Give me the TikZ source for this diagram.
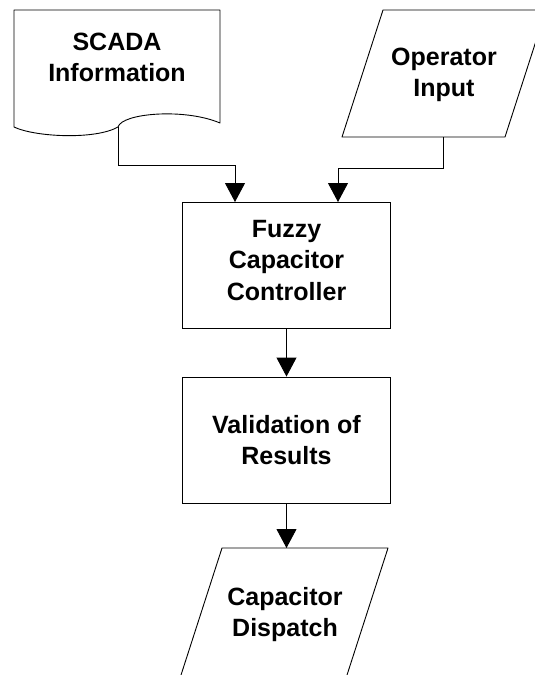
\documentclass[tikz,border=0pt]{standalone}
\usepackage{fontspec}
\setmainfont{Liberation Sans}
\usetikzlibrary{arrows.meta}
\def\mytop{\rule{0pt}{20pt}}
\def\mybot{\rule[-6pt]{0pt}{6pt}}
\begin{document}
\begin{tikzpicture}[x=1pt,y=-1pt,
  line/.style={line width=0.9pt, line join=round},
  conn/.style={line width=0.9pt, -{Triangle[width=20pt,length=19pt]}},
  lbl/.style={font=\fontsize{25}{31.5}\selectfont\bfseries, align=center, inner sep=0pt, anchor=north},
  box/.style={draw, line width=0.9pt, minimum width=208pt, minimum height=126pt, inner sep=0pt}]
\useasboundingbox (0,0) rectangle (535,675);
\clip (0,0) rectangle (535,675);
% SCADA document shape
\draw[line] (14,10) -- (220,10) -- (220,123)
  .. controls (185,108) and (122,113) .. (118,127)
  .. controls (95,140) and (35,137) .. (14,127) -- cycle;
\coordinate (scadaout) at (118,127);
\node[lbl] (scada) at (117,30) {\mytop SCADA\\Information\mybot};
% Operator input parallelogram
\draw[line] (383,10) -- (546,10) -- (505,137) -- (342,137) -- cycle;
\coordinate (opout) at (443,137);
\node[lbl] (oper) at (444,45) {\mytop Operator\\Input\mybot};
% Fuzzy controller box
\node[box] (fuzzy) at (286.5,265) {};
\node[lbl] (fuzzytxt) at (286.5,217) {\mytop Fuzzy\\Capacitor\\Controller\mybot};
\coordinate (fin1) at (235,202);
\coordinate (fin2) at (338,202);
% Validation box
\node[box] (valid) at (286.5,440) {};
\node[lbl] (validtxt) at (286.5,413) {\mytop Validation of\\Results\mybot};
% Capacitor dispatch parallelogram
\draw[line] (222,548) -- (388,548) -- (345.4,680) -- (179.4,680) -- cycle;
\coordinate (dispin) at (286.5,548);
\node[lbl] (disptxt) at (285,585) {\mytop Capacitor\\Dispatch\mybot};
% connectors
\draw[conn] (scadaout) -- (118,165) -| (fin1);
\draw[conn] (opout) -- (443,168) -| (fin2);
\draw[conn] (fuzzy.south) -- (valid.north);
\draw[conn] (valid.south) -- (dispin);
\end{tikzpicture}
\end{document}
